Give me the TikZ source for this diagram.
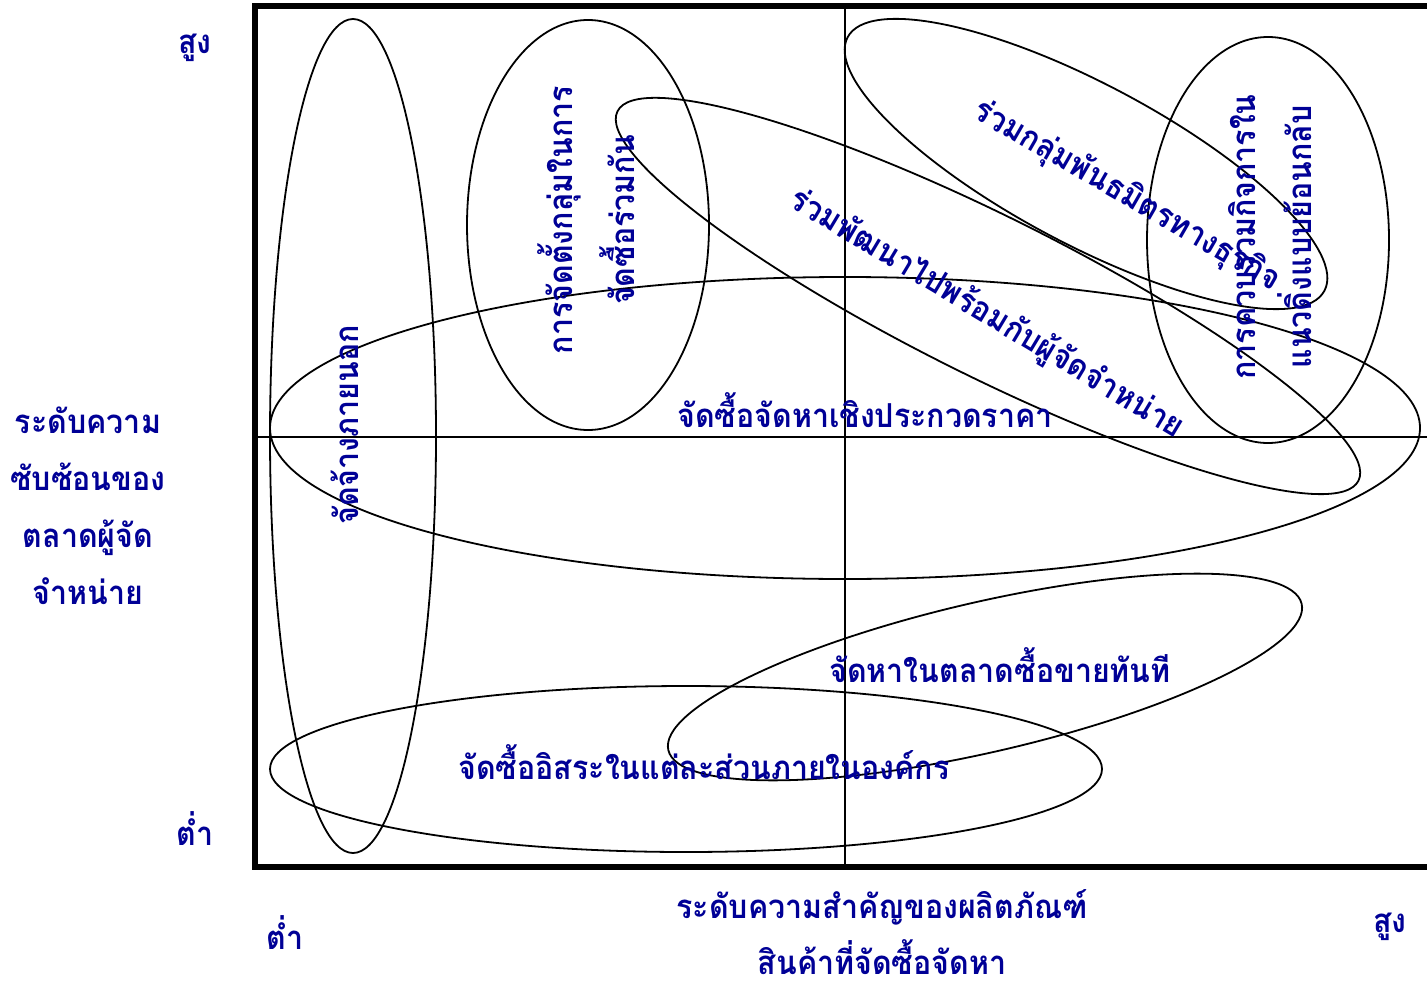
\documentclass[tikz,border=0pt]{standalone}
\usepackage{fontspec}
\setmainfont[Script=Thai,FakeStretch=0.92]{Loma}
\definecolor{txtblue}{RGB}{0,0,150}
\tikzset{
  lbl/.style={text=txtblue, font=\bfseries\fontsize{16.5}{20}\selectfont, inner sep=0pt, align=center},
  oval/.style={draw=black, line width=0.9pt},
  frameline/.style={draw=black, line width=3pt},
  axisline/.style={draw=black, line width=1.2pt}
}
\begin{document}
\begin{tikzpicture}[x=0.5pt,y=-0.5pt]
\useasboundingbox (0,0) rectangle (1427,984);
% frame and axes
\coordinate (tl) at (255,6);
\coordinate (tr) at (1427,6);
\coordinate (bl) at (255,867);
\coordinate (br) at (1427,867);
\draw[frameline] (tr) -- (tl) -- (bl) -- (br);
\coordinate (hl) at (255,437);
\coordinate (hr) at (1427,437);
\coordinate (vt) at (845,6);
\coordinate (vb) at (845,867);
\draw[axisline] (hl) -- (hr);
\draw[axisline] (vt) -- (vb);
% ellipses
\coordinate (e1) at (353,436);
\draw[oval] (e1) ellipse [x radius=83, y radius=417];
\coordinate (e2) at (588,225);
\draw[oval] (e2) ellipse [x radius=121, y radius=205];
\coordinate (e3) at (845,428);
\draw[oval] (e3) ellipse [x radius=575, y radius=151];
\coordinate (e4) at (988,296);
\draw[oval, rotate around={-26.5:(e4)}] (e4) ellipse [x radius=414, y radius=80];
\coordinate (e5) at (1086,164);
\draw[oval, rotate around={-28:(e5)}] (e5) ellipse [x radius=270, y radius=80];
\coordinate (e6) at (1268,240);
\draw[oval] (e6) ellipse [x radius=121, y radius=203];
\coordinate (e7) at (985,677);
\draw[oval, rotate around={13:(e7)}] (e7) ellipse [x radius=325, y radius=75];
\coordinate (e8) at (686,769);
\draw[oval] (e8) ellipse [x radius=416, y radius=83];
% labels
\node[lbl] (yhi) at (195,48) {สูง};
\node[lbl] (ylo) at (195,829) {ต่ำ};
\node[lbl, align=center] (ytitle) at (88,506) {ระดับความ\\[8.5pt]ซับซ้อนของ\\[8.5pt]ตลาดผู้จัด\\[8.5pt]จำหน่าย};
\node[lbl] (xlo) at (285,933) {ต่ำ};
\node[lbl] (xhi) at (1390,927) {สูง};
\node[lbl] (xtitle) at (882,932) {ระดับความสำคัญของผลิตภัณฑ์\\[6pt]สินค้าที่จัดซื้อจัดหา};
\node[lbl, rotate=90] (t1) at (345,425) {จัดจ้างภายนอก};
\node[lbl, rotate=90] (t2) at (586,220) {การจัดตั้งกลุ่มในการ\\[8pt]จัดซื้อร่วมกัน};
\node[lbl, rotate=-31] (t3) at (987,314) {ร่วมพัฒนาไปพร้อมกับผู้จัดจำหน่าย};
\node[lbl, rotate=-30] (t4) at (1127,196) {ร่วมกลุ่มพันธมิตรทางธุรกิจ};
\node[lbl, rotate=90] (t5) at (1270,237) {การควบรวมกิจการใน\\[8pt]แนวดิ่งแบบย้อนกลับ};
\node[lbl] (t6) at (865,410) {จัดซื้อจัดหาเชิงประกวดราคา};
\node[lbl] (t7) at (1000,665) {จัดหาในตลาดซื้อขายทันที};
\node[lbl] (t8) at (704,762) {จัดซื้ออิสระในแต่ละส่วนภายในองค์กร};
\end{tikzpicture}
\end{document}
